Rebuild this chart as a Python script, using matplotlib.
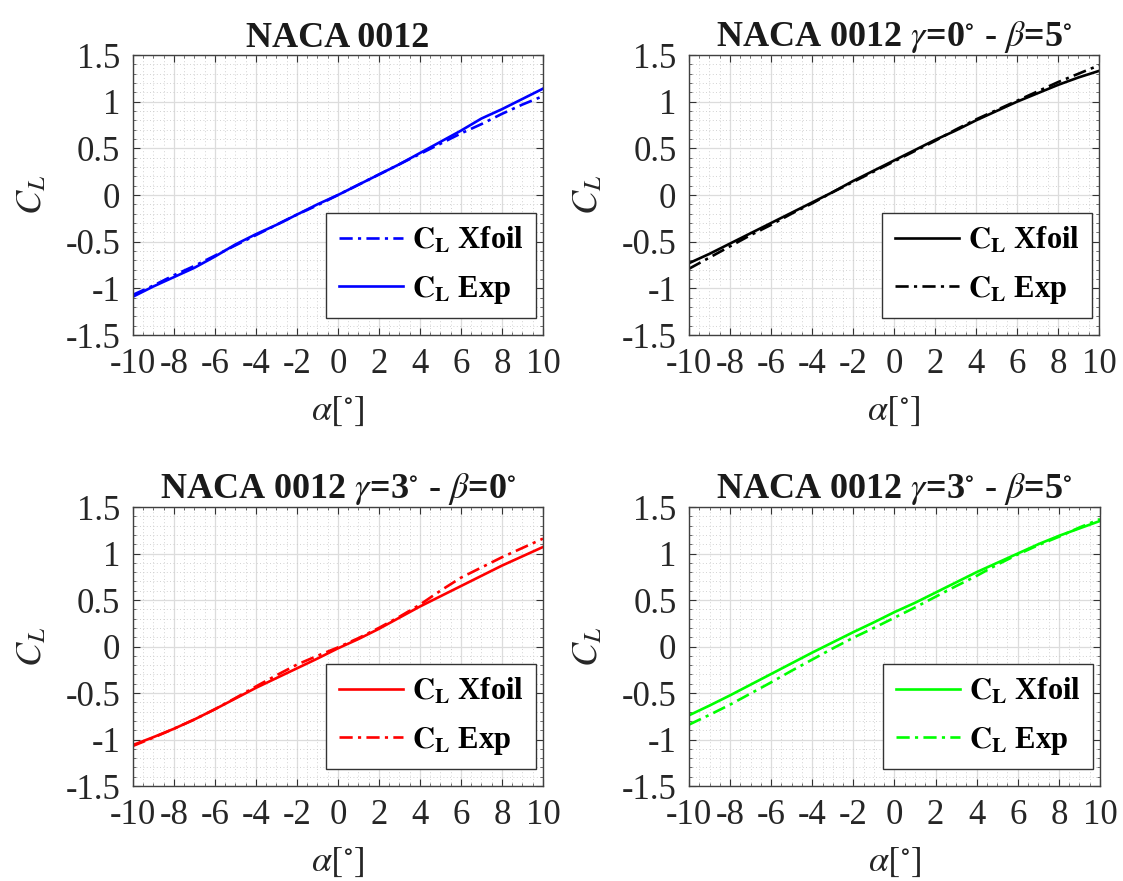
import matplotlib
matplotlib.use("Agg")
import matplotlib.pyplot as plt
from matplotlib.ticker import MultipleLocator, FuncFormatter
import numpy as np

plt.rcParams['font.family'] = ['Liberation Serif', 'DejaVu Serif']
plt.rcParams['mathtext.fontset'] = 'stix'
plt.rcParams['axes.unicode_minus'] = False

# angle d'attaque (deg)
alpha = [-10, -9, -8, -7, -6, -5, -4, -3, -2, -1, 0, 1, 2, 3, 4, 5, 6, 7, 8, 9, 10]

# gamma=0, beta=0
cl_xfoil_00 = [-1.07, -0.97, -0.86, -0.76, -0.65, -0.54, -0.43, -0.32, -0.21, -0.11, 0.00,
               0.11, 0.22, 0.33, 0.44, 0.55, 0.66, 0.76, 0.87, 0.97, 1.06]
cl_exp_00 = [-1.09, -0.98, -0.88, -0.78, -0.66, -0.53, -0.42, -0.32, -0.21, -0.10, 0.00,
             0.11, 0.22, 0.33, 0.45, 0.57, 0.69, 0.82, 0.92, 1.03, 1.14]

# gamma=0, beta=5
cl_xfoil_05 = [-0.73, -0.63, -0.52, -0.41, -0.30, -0.19, -0.08, 0.03, 0.15, 0.26, 0.37,
               0.48, 0.59, 0.69, 0.80, 0.90, 1.00, 1.09, 1.18, 1.26, 1.33]
cl_exp_05 = [-0.79, -0.67, -0.55, -0.43, -0.32, -0.20, -0.09, 0.03, 0.14, 0.25, 0.36,
             0.47, 0.58, 0.70, 0.81, 0.91, 1.01, 1.11, 1.21, 1.30, 1.39]

# gamma=3, beta=0
cl_xfoil_30 = [-1.06, -0.975, -0.885, -0.785, -0.675, -0.56, -0.445, -0.34, -0.235, -0.13, -0.02,
               0.08, 0.19, 0.31, 0.43, 0.54, 0.65, 0.76, 0.87, 0.97, 1.07]
cl_exp_30 = [-1.07, -0.98, -0.885, -0.785, -0.675, -0.555, -0.43, -0.31, -0.195, -0.10, -0.01,
             0.09, 0.20, 0.32, 0.45, 0.60, 0.74, 0.85, 0.96, 1.06, 1.16]

# gamma=3, beta=5
cl_xfoil_35 = [-0.74, -0.635, -0.525, -0.41, -0.295, -0.18, -0.065, 0.045, 0.155, 0.26, 0.37,
               0.47, 0.58, 0.69, 0.80, 0.90, 1.00, 1.10, 1.19, 1.27, 1.35]
cl_exp_35 = [-0.84, -0.735, -0.625, -0.505, -0.385, -0.26, -0.14, -0.02, 0.095, 0.20, 0.31,
             0.42, 0.535, 0.65, 0.76, 0.88, 0.99, 1.09, 1.18, 1.28, 1.37]

titles = ['NACA 0012',
          r'NACA 0012 $\gamma$=0$^{\circ}$ - $\beta$=5$^{\circ}$',
          r'NACA 0012 $\gamma$=3$^{\circ}$ - $\beta$=0$^{\circ}$',
          r'NACA 0012 $\gamma$=3$^{\circ}$ - $\beta$=5$^{\circ}$']

dashdot = (0, (5, 2, 1.2, 2))
lbl_x = r'$\mathbf{C_L}$ Xfoil'
lbl_e = r'$\mathbf{C_L}$ Exp'

fig = plt.figure(figsize=(11.23, 8.81), dpi=100)
pos = [[0.1182, 0.6197, 0.3653, 0.3178],
       [0.6135, 0.6197, 0.3651, 0.3178],
       [0.1182, 0.1078, 0.3653, 0.3167],
       [0.6135, 0.1078, 0.3660, 0.3167]]
axs = [fig.add_axes(p) for p in pos]

lw = 1.9
axs[0].plot(alpha, cl_xfoil_00, color='blue', lw=lw, ls=dashdot, label=lbl_x)
axs[0].plot(alpha, cl_exp_00, color='blue', lw=lw, label=lbl_e)
axs[1].plot(alpha, cl_xfoil_05, color='black', lw=lw, label=lbl_x)
axs[1].plot(alpha, cl_exp_05, color='black', lw=lw, ls=dashdot, label=lbl_e)
axs[2].plot(alpha, cl_xfoil_30, color='red', lw=lw, label=lbl_x)
axs[2].plot(alpha, cl_exp_30, color='red', lw=lw, ls=dashdot, label=lbl_e)
axs[3].plot(alpha, cl_xfoil_35, color='#00ff00', lw=lw, label=lbl_x)
axs[3].plot(alpha, cl_exp_35, color='#00ff00', lw=lw, ls=dashdot, label=lbl_e)

for ax, t in zip(axs, titles):
    ax.set_xlim(-10, 10)
    ax.set_ylim(-1.5, 1.5)
    ax.xaxis.set_major_locator(MultipleLocator(2))
    ax.yaxis.set_major_locator(MultipleLocator(0.5))
    ax.xaxis.set_minor_locator(MultipleLocator(0.5))
    ax.yaxis.set_minor_locator(MultipleLocator(0.1))
    ax.yaxis.set_major_formatter(FuncFormatter(lambda v, p: f'{v:g}'))
    ax.xaxis.set_major_formatter(FuncFormatter(lambda v, p: f'{v:g}'))
    ax.grid(which='major', color='#dcdcdc', lw=0.9)
    ax.grid(which='minor', color='#c4c4c4', lw=0.6, ls=(0, (1, 3)))
    ax.set_axisbelow(True)
    ax.tick_params(which='both', direction='in', top=True, right=True, colors='#333333',
                   labelcolor='#262626', labelsize=25, pad=9)
    ax.tick_params(which='major', length=5, width=0.8)
    ax.tick_params(which='minor', length=2, width=0.5)
    for s in ax.spines.values():
        s.set_color('#404040')
        s.set_linewidth(1.0)
    ax.set_title(t, fontsize=26, fontweight='bold', pad=5, color='#1a1a1a')
    ax.set_xlabel(r'$\alpha[^{\circ}]$', fontsize=26, labelpad=10, color='#262626')
    ax.set_ylabel(r'$C_L$', fontsize=26, labelpad=12, color='#262626')
    leg = ax.legend(loc='lower right', bbox_to_anchor=(0.983, 0.061), borderaxespad=0,
                    prop={'weight': 'bold', 'size': 22}, handlelength=2.1,
                    fancybox=False, framealpha=1, edgecolor='#333333', labelspacing=0.6,
                    borderpad=0.4, handletextpad=0.3)
    leg.get_frame().set_linewidth(1.0)

fig.savefig('out.png', dpi=100)
